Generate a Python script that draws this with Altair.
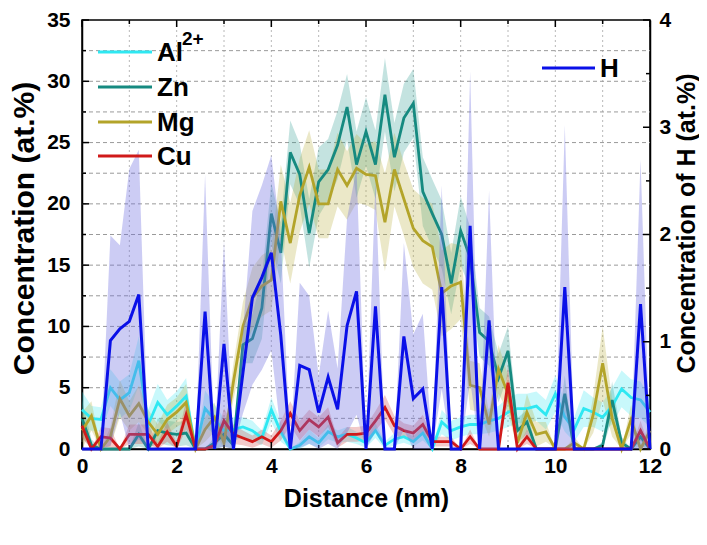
import altair as alt
import pandas as pd

# ---------------- data ----------------
x_nm = [0.0, 0.2, 0.4, 0.6, 0.8, 1.0, 1.2, 1.4, 1.6, 1.8, 2.0, 2.2, 2.4, 2.6, 2.8, 3.0,
        3.2, 3.4, 3.6, 3.8, 4.0, 4.2, 4.4, 4.6, 4.8, 5.0, 5.2, 5.4, 5.6, 5.8, 6.0, 6.2,
        6.4, 6.6, 6.8, 7.0, 7.2, 7.4, 7.6, 7.8, 8.0, 8.2, 8.4, 8.6, 8.8, 9.0, 9.2, 9.4,
        9.6, 9.8, 10.0, 10.2, 10.4, 10.6, 10.8, 11.0, 11.2, 11.4, 11.6, 11.8, 12.0]

al = [3.2, 2.5, 2.4, 5.0, 4.0, 4.6, 7.2, 2.0, 3.8, 2.8, 3.5, 4.3, 0.0, 3.3, 2.4, 1.5,
      1.6, 1.8, 1.5, 0.9, 3.2, 1.4, 0.0, 0.3, 1.0, 0.5, 1.4, 1.0, 1.2, 0.9, 0.5, 1.5,
      0.3, 0.8, 1.0, 0.6, 1.3, 0.0, 2.2, 1.5, 1.8, 2.0, 2.0, 2.3, 2.5, 3.0, 3.3, 3.3,
      3.5, 2.8, 4.5, 2.6, 1.6, 3.3, 3.0, 2.6, 3.5, 4.9, 4.2, 4.0, 3.0]
al_err = [1.5, 1.0, 1.0, 1.5, 1.5, 1.5, 2.0, 1.2, 1.5, 1.2, 1.2, 1.5, 0.0, 1.5, 1.2, 1.0,
          1.0, 0.8, 0.8, 0.6, 1.0, 0.8, 0.0, 0.3, 0.6, 0.4, 0.6, 0.5, 0.6, 0.5, 0.4, 0.6,
          0.3, 0.5, 0.5, 0.4, 0.6, 0.0, 1.0, 0.8, 0.8, 0.8, 0.8, 1.0, 1.0, 1.2, 1.2, 1.2,
          1.2, 1.2, 1.5, 1.2, 1.0, 1.5, 1.2, 1.2, 1.5, 1.5, 1.5, 1.5, 1.2]

zn = [2.5, 0.3, 0.0, 0.0, 0.0, 0.0, 1.2, 0.0, 1.5, 1.3, 1.2, 1.3, 0.0, 0.0, 0.5, 1.2,
      0.3, 8.5, 9.0, 11.5, 19.2, 16.0, 24.2, 22.4, 17.6, 21.8, 22.8, 24.8, 27.9, 23.2, 25.9, 23.2,
      28.9, 23.8, 27.0, 28.2, 21.0, 19.2, 17.5, 13.5, 17.8, 15.6, 9.5, 8.8, 5.8, 8.0, 1.5, 2.2,
      0.0, 0.0, 0.0, 4.5, 0.0, 0.0, 0.0, 0.3, 4.0, 0.5, 0.0, 1.0, 0.0]
zn_err = [1.5, 0.5, 0.0, 0.0, 0.0, 0.0, 1.0, 0.0, 1.0, 1.0, 1.0, 1.0, 0.0, 0.0, 0.5, 1.0,
          0.5, 1.5, 2.0, 2.5, 2.5, 2.5, 2.6, 2.5, 2.8, 2.8, 2.5, 2.8, 2.7, 2.7, 2.8, 2.8,
          3.0, 2.8, 2.8, 2.8, 2.8, 2.8, 2.8, 2.5, 2.8, 2.5, 2.0, 2.0, 2.0, 2.0, 1.0, 1.0,
          0.0, 0.0, 0.0, 1.5, 0.0, 0.0, 0.0, 0.3, 1.5, 0.5, 0.0, 0.8, 0.0]

mg = [1.5, 2.7, 0.0, 1.0, 4.1, 2.7, 3.7, 2.2, 1.2, 2.4, 3.0, 3.8, 0.0, 1.6, 2.6, 0.5,
      5.5, 10.0, 12.3, 13.3, 13.8, 20.2, 16.8, 20.7, 23.0, 20.0, 20.0, 22.8, 21.5, 22.9, 22.4, 22.3,
      18.5, 22.8, 20.4, 18.0, 17.0, 16.5, 12.7, 13.3, 13.6, 5.2, 5.0, 2.0, 6.5, 4.5, 0.5, 3.0,
      1.2, 1.4, 0.0, 0.0, 0.5, 0.0, 2.8, 7.0, 2.5, 0.0, 2.4, 0.0, 1.5]
mg_err = [1.5, 1.2, 0.0, 0.8, 1.5, 1.2, 1.5, 1.0, 0.8, 1.2, 1.2, 1.5, 0.0, 1.0, 1.2, 0.5,
          1.5, 2.0, 2.5, 2.5, 2.5, 3.0, 3.3, 3.0, 3.0, 2.8, 2.8, 3.0, 2.8, 2.8, 2.5, 2.8,
          4.0, 3.0, 3.0, 3.2, 3.5, 3.5, 3.5, 3.5, 3.0, 2.0, 2.0, 1.0, 2.0, 1.5, 0.5, 1.5,
          1.0, 0.8, 0.0, 0.0, 0.5, 0.0, 1.5, 3.0, 1.5, 0.0, 1.2, 0.0, 1.0]

cu = [1.9, 0.0, 1.0, 0.9, 0.0, 1.2, 1.2, 1.2, 0.2, 1.4, 0.2, 2.8, 0.0, 0.0, 0.3, 2.3,
      1.2, 0.9, 0.6, 1.0, 0.6, 1.5, 2.9, 1.5, 2.4, 1.8, 2.6, 0.5, 1.2, 1.2, 1.3, 2.3,
      3.4, 1.9, 1.5, 1.3, 2.0, 0.6, 0.6, 0.6, 0.0, 1.0, 0.0, 0.0, 0.0, 5.4, 0.0, 1.0,
      0.0, 0.0, 0.0, 0.0, 0.0, 0.0, 0.0, 0.0, 0.0, 0.0, 0.0, 1.5, 0.0]
cu_err = [1.0, 0.0, 0.8, 0.8, 0.0, 0.8, 0.8, 0.8, 0.3, 0.8, 0.3, 1.2, 0.0, 0.0, 0.3, 1.0,
          0.8, 0.6, 0.5, 0.6, 0.5, 0.8, 1.0, 0.8, 0.8, 0.8, 0.8, 0.4, 0.6, 0.6, 0.6, 0.8,
          1.0, 0.8, 0.6, 0.6, 0.8, 0.4, 0.4, 0.4, 0.0, 0.6, 0.0, 0.0, 0.0, 1.5, 0.0, 0.6,
          0.0, 0.0, 0.0, 0.0, 0.0, 0.0, 0.0, 0.0, 0.0, 0.0, 0.0, 0.8, 0.0]

h_conc = [0.0, 0.0, 0.0, 1.01, 1.12, 1.19, 1.44, 0.0, 0.0, 0.0, 0.0, 0.0, 0.0, 1.28, 0.0, 0.98,
          0.0, 0.71, 1.41, 1.60, 1.83, 1.06, 0.0, 0.78, 0.74, 0.34, 0.67, 0.37, 1.15, 1.47, 0.0, 1.33,
          0.0, 0.0, 1.05, 0.47, 0.56, 0.0, 1.51, 0.0, 0.0, 2.08, 0.0, 1.20, 0.0, 0.0, 0.0, 0.0,
          0.0, 0.0, 0.0, 1.51, 0.0, 0.0, 0.0, 0.0, 0.0, 0.0, 0.0, 1.35, 0.0]
h_err = [0.0, 0.0, 0.0, 0.98, 0.78, 1.42, 1.35, 0.0, 0.0, 0.0, 0.0, 0.0, 0.0, 1.28, 0.0, 0.96,
         0.0, 0.38, 0.81, 0.86, 0.91, 0.91, 0.0, 0.77, 0.69, 0.34, 0.62, 0.38, 1.00, 1.15, 0.0, 1.17,
         0.0, 0.0, 0.87, 0.60, 0.70, 0.0, 0.95, 0.0, 0.0, 1.44, 0.0, 1.21, 0.0, 0.0, 0.0, 0.0,
         0.0, 0.0, 0.0, 1.51, 0.0, 0.0, 0.0, 0.0, 0.0, 0.0, 0.0, 1.35, 0.0]

series_names = ["Al", "Zn", "Mg", "Cu"]
line_colors = ["#2EE8F2", "#168A80", "#B3A42A", "#D01A1A"]
band_colors = ["#39E5F0", "#2A9A90", "#B8AD3A", "#D04040"]
h_color = "#0A10E8"
h_band_color = "#6E6EE0"

left_major = [0, 5, 10, 15, 20, 25, 30, 35]
left_minor = [2.5, 7.5, 12.5, 17.5, 22.5, 27.5, 32.5]
right_major = [0, 1, 2, 3, 4]
right_minor = [0.5, 1.5, 2.5, 3.5]
x_major = [0, 2, 4, 6, 8, 10, 12]
x_minor = [1, 3, 5, 7, 9, 11]
grid_x = [1, 2, 3, 4, 5, 6, 7, 8, 9, 10, 11]
grid_y = [2.5, 5, 7.5, 10, 12.5, 15, 17.5, 20, 22.5, 25, 27.5, 30, 32.5]

# ---------------- tables ----------------
rows = []
for name, vals, errs in zip(series_names, [al, zn, mg, cu], [al_err, zn_err, mg_err, cu_err]):
    for x, v, e in zip(x_nm, vals, errs):
        rows.append({"series": name, "x": x, "v": v, "lo": max(0.0, v - e), "hi": v + e})
df = pd.DataFrame(rows)
dh = pd.DataFrame({"x": x_nm, "v": h_conc,
                   "lo": [max(0.0, v - e) for v, e in zip(h_conc, h_err)],
                   "hi": [v + e for v, e in zip(h_conc, h_err)]})

W, HT = 568, 429
TOP = 12
FONT = "Liberation Sans"
xs = alt.Scale(domain=[0, 12], nice=False, zero=False)
ys = alt.Scale(domain=[0, 35], nice=False)
hs = alt.Scale(domain=[0, 4], nice=False)

x_axis = alt.Axis(values=x_major, title="Distance (nm)", labelFlush=False, labelPadding=6,
                  titleX=W / 2, titleY=49, titleBaseline="middle", titleAlign="center")
y_axis = alt.Axis(values=left_major, title="Concentration (at.%)", labelPadding=12,
                  titleX=-58, titleY=208, titleAngle=270, titleAlign="center",
                  titleBaseline="middle", titleFontSize=30)
h_axis = alt.Axis(values=right_major, orient="right", title="Concentration of H (at.%)",
                  labelPadding=9, titleX=36, titleY=203, titleAngle=270,
                  titleAlign="center", titleBaseline="middle", titleFontSize=25)


def X():
    return alt.X("x:Q", scale=xs, axis=x_axis)


def YL(field):
    return alt.Y(field, type="quantitative", scale=ys, axis=y_axis)


def YH(field):
    return alt.Y(field, type="quantitative", scale=hs, axis=h_axis)


# grid
grid_v = alt.Chart(pd.DataFrame({"x": grid_x})).mark_rule(
    color="#B8B8B8", strokeDash=[2, 3], strokeWidth=1).encode(
    x=X(), y=alt.value(0), y2=alt.value(HT))
grid_h = alt.Chart(pd.DataFrame({"v": grid_y})).mark_rule(
    color="#9A9A9A", strokeDash=[4, 3], strokeWidth=1).encode(
    y=YL("v"), x=alt.value(0), x2=alt.value(W))

bands = []
lines = []
for name, lc, bc in zip(series_names, line_colors, band_colors):
    sub = df[df.series == name]
    bands.append(alt.Chart(sub).mark_area(color=bc, opacity=0.28).encode(
        x=X(), y=YL("lo"), y2="hi:Q"))
    lines.append(alt.Chart(sub).mark_line(color=lc, strokeWidth=2.8).encode(
        x=X(), y=YL("v")))


# inward ticks
def ticks_left(vals, ln):
    return alt.Chart(pd.DataFrame({"v": vals})).mark_rule(color="black", strokeWidth=1.5).encode(
        y=YL("v"), x=alt.value(0), x2=alt.value(ln))


def ticks_x(vals, ln, top):
    y0, y1 = (0, ln) if top else (HT - ln, HT)
    return alt.Chart(pd.DataFrame({"x": vals})).mark_rule(color="black", strokeWidth=1.5).encode(
        x=X(), y=alt.value(y0), y2=alt.value(y1))


def ticks_right(vals, ln):
    return alt.Chart(pd.DataFrame({"v": vals})).mark_rule(color="black", strokeWidth=1.5).encode(
        y=YH("v"), x=alt.value(W - ln), x2=alt.value(W))


left = alt.layer(grid_v, grid_h, *bands, *lines,
                 ticks_left(left_major, 7), ticks_left(left_minor, 4),
                 ticks_x(x_major, 7, False), ticks_x(x_minor, 4, False),
                 ticks_x(x_major, 7, True), ticks_x(x_minor, 4, True))

h_band = alt.Chart(dh).mark_area(color=h_band_color, opacity=0.35).encode(
    x=X(), y=YH("lo"), y2="hi:Q")
h_line = alt.Chart(dh).mark_line(color=h_color, strokeWidth=3).encode(
    x=X(), y=YH("v"))
right = alt.layer(h_band, h_line, ticks_right(right_major, 7), ticks_right(right_minor, 4))

# manual legends
one = pd.DataFrame({"a": [0]})
legend_layers = []
leg_y = [32, 67, 102, 136]
for name, lc, yy in zip(series_names, line_colors, leg_y):
    legend_layers.append(alt.Chart(one).mark_rule(color=lc, strokeWidth=3).encode(
        x=alt.value(16), x2=alt.value(70), y=alt.value(yy)))
    legend_layers.append(alt.Chart(one).mark_text(
        text=name, align="left", baseline="middle", font=FONT, fontSize=26,
        fontWeight="bold", color="black").encode(x=alt.value(75), y=alt.value(yy + 1)))
legend_layers.append(alt.Chart(one).mark_text(
    text="2+", align="left", baseline="middle", font=FONT, fontSize=19,
    fontWeight="bold", color="black").encode(x=alt.value(100), y=alt.value(19)))
legend_layers.append(alt.Chart(one).mark_rule(color=h_color, strokeWidth=3).encode(
    x=alt.value(460), x2=alt.value(513), y=alt.value(48)))
legend_layers.append(alt.Chart(one).mark_text(
    text="H", align="left", baseline="middle", font=FONT, fontSize=26,
    fontWeight="bold", color="black").encode(x=alt.value(518), y=alt.value(49)))

chart = alt.layer(left, right, *legend_layers).resolve_scale(y="independent").properties(
    width=W, height=HT,
    autosize=alt.AutoSizeParams(type="none"),
    padding={"left": 74, "top": TOP, "right": 49, "bottom": 88},
).configure_view(stroke="black", strokeWidth=1.5).configure_axis(
    labelFont=FONT, titleFont=FONT, labelFontWeight="bold", titleFontWeight="bold",
    labelColor="black", titleColor="black", domainColor="black", domainWidth=1.5,
    ticks=False, grid=False, labelFontSize=21, titleFontSize=25,
)

chart.save("out.html", embed_options={"renderer": "svg", "actions": False})
